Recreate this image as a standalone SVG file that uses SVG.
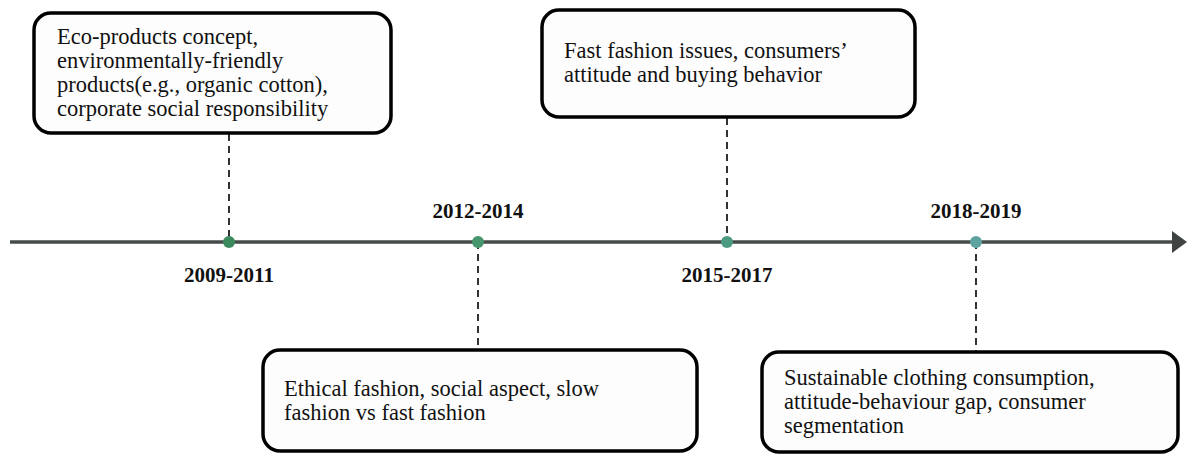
<svg xmlns="http://www.w3.org/2000/svg" width="1187" height="455" viewBox="0 0 1187 455">
<style>
.box{fill:#fdfdfd;stroke:#000;stroke-width:3.5}
.t{font-family:"Liberation Serif","Times New Roman",serif;font-size:22.5px;fill:#111}
.y{font-family:"Liberation Serif","Times New Roman",serif;font-size:21px;font-weight:bold;fill:#111;text-anchor:middle}
.d{stroke:#000;stroke-width:1.6;stroke-dasharray:7,5;fill:none}
</style>
<rect width="1187" height="455" fill="#fff"/>
<g id="connectors">
<line x1="10" y1="242" x2="1174" y2="242" stroke="#464b49" stroke-width="3.5"/>
<path d="M1172,231 L1187,242 L1172,253 Z" fill="#3f4442"/>
<line class="d" x1="229" y1="134" x2="229" y2="242"/>
<line class="d" x1="478" y1="242" x2="478" y2="350"/>
<line class="d" x1="727" y1="118" x2="727" y2="242"/>
<line class="d" x1="976" y1="242" x2="976" y2="352"/>
</g>
<g id="p1">
<circle cx="229" cy="242" r="6" fill="#3b8a5c"/>
<text class="y" x="229" y="282">2009-2011</text>
</g>
<g id="p2">
<circle cx="478" cy="242" r="6" fill="#46966e"/>
<text class="y" x="478" y="218">2012-2014</text>
</g>
<g id="p3">
<circle cx="727" cy="242" r="6" fill="#4c9a82"/>
<text class="y" x="727" y="282">2015-2017</text>
</g>
<g id="p4">
<circle cx="976" cy="242" r="6" fill="#5ea3a2"/>
<text class="y" x="976" y="218">2018-2019</text>
</g>
<g id="box1">
<rect class="box" x="34" y="13" width="357" height="120" rx="17"/>
<text class="t"><tspan x="57" y="44">Eco-products concept,</tspan><tspan x="57" y="68">environmentally-friendly</tspan><tspan x="57" y="92">products(e.g., organic cotton),</tspan><tspan x="57" y="116">corporate social responsibility</tspan></text>
</g>
<g id="box2">
<rect class="box" x="263" y="350" width="434" height="101" rx="17"/>
<text class="t"><tspan x="284" y="396">Ethical fashion, social aspect, slow</tspan><tspan x="284" y="420">fashion vs fast fashion</tspan></text>
</g>
<g id="box3">
<rect class="box" x="542" y="10" width="373" height="107" rx="17"/>
<text class="t"><tspan x="564" y="58">Fast fashion issues, consumers’</tspan><tspan x="564" y="82">attitude and buying behavior</tspan></text>
</g>
<g id="box4">
<rect class="box" x="762" y="352" width="416" height="100" rx="17"/>
<text class="t"><tspan x="784" y="385">Sustainable clothing consumption,</tspan><tspan x="784" y="409">attitude-behaviour gap, consumer</tspan><tspan x="784" y="433">segmentation</tspan></text>
</g>
</svg>
